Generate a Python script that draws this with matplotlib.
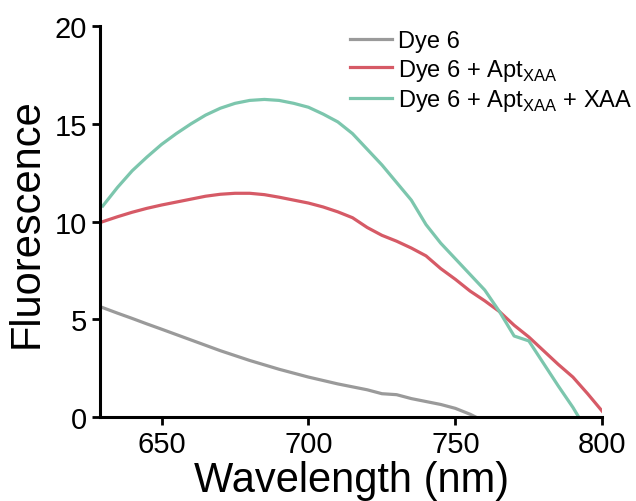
#!/usr/bin/env python3
import matplotlib
matplotlib.use("Agg")
import matplotlib.pyplot as plt

# emission spectra (wavelength in nm, fluorescence a.u.)
wl_dye = [630, 635, 640, 645, 650, 660, 670, 680, 690, 700, 710, 720, 725, 730, 735, 740, 745,
          750, 755, 757]
fl_dye = [5.6, 5.32, 5.05, 4.77, 4.5, 3.95, 3.4, 2.9, 2.45, 2.05, 1.7, 1.4, 1.2, 1.15, 0.95, 0.8,
          0.65, 0.45, 0.15, 0.0]

wl_apt = [630, 635, 640, 645, 650, 655, 660, 665, 670, 675, 680, 685, 690, 695, 700, 705, 710,
          715, 720, 725, 730, 735, 740, 745, 750, 755, 760, 765, 770, 775, 780, 785, 790, 795, 800]
fl_apt = [10.0, 10.25, 10.48, 10.68, 10.85, 11.0, 11.15, 11.3, 11.4, 11.45, 11.45, 11.38, 11.25,
          11.1, 10.95, 10.75, 10.5, 10.2, 9.7, 9.3, 9.0, 8.65, 8.25, 7.6, 7.05, 6.45, 5.95, 5.4,
          4.7, 4.1, 3.4, 2.7, 2.05, 1.2, 0.3]

wl_xaa = [630, 635, 640, 645, 650, 655, 660, 665, 670, 675, 680, 685, 690, 695, 700, 705, 710,
          715, 720, 725, 730, 735, 740, 745, 750, 755, 760, 765, 770, 775, 780, 785, 790, 792]
fl_xaa = [10.8, 11.75, 12.6, 13.3, 13.95, 14.5, 15.0, 15.45, 15.8, 16.05, 16.2, 16.25, 16.2,
          16.05, 15.85, 15.5, 15.1, 14.5, 13.7, 12.9, 12.0, 11.1, 9.85, 8.9, 8.1, 7.3, 6.5, 5.4,
          4.15, 3.9, 2.75, 1.6, 0.5, 0.0]

labels = ["Dye 6",
          r"Dye 6 + Apt$_\mathregular{XAA}$",
          r"Dye 6 + Apt$_\mathregular{XAA}$ + XAA"]
colors = ["#9a9a9a", "#d65a66", "#7cc6ad"]

x_ticks = [650, 700, 750, 800]
y_ticks = [0, 5, 10, 15, 20]

plt.rcParams["font.family"] = ["Liberation Sans", "DejaVu Sans"]
plt.rcParams["mathtext.fontset"] = "custom"
plt.rcParams["mathtext.rm"] = "Liberation Sans"

fig = plt.figure(figsize=(6.36, 5.02), dpi=100)
ax = fig.add_axes([0.157, 0.167, 0.79, 0.779])

for wl, fl, lab, col in zip([wl_dye, wl_apt, wl_xaa], [fl_dye, fl_apt, fl_xaa], labels, colors):
    ax.plot(wl, fl, color=col, linewidth=2.3, label=lab)

ax.set_xlim(629, 800)
ax.set_ylim(0, 20)
ax.set_xticks(x_ticks)
ax.set_yticks(y_ticks)

for side in ["top", "right"]:
    ax.spines[side].set_visible(False)
for side in ["left", "bottom"]:
    ax.spines[side].set_linewidth(2.2)
ax.tick_params(width=2.0, length=6, labelsize=21, pad=3)

ax.set_xlabel("Wavelength (nm)", fontsize=30, labelpad=2)
ax.set_ylabel("Fluorescence", fontsize=30, labelpad=6)

ax.legend(loc="upper left", bbox_to_anchor=(0.498, 0.99), frameon=False, fontsize=17,
          handlelength=1.78, handletextpad=0.25, labelspacing=0.2, borderaxespad=0,
          borderpad=0)

fig.savefig("out.png", dpi=100)
